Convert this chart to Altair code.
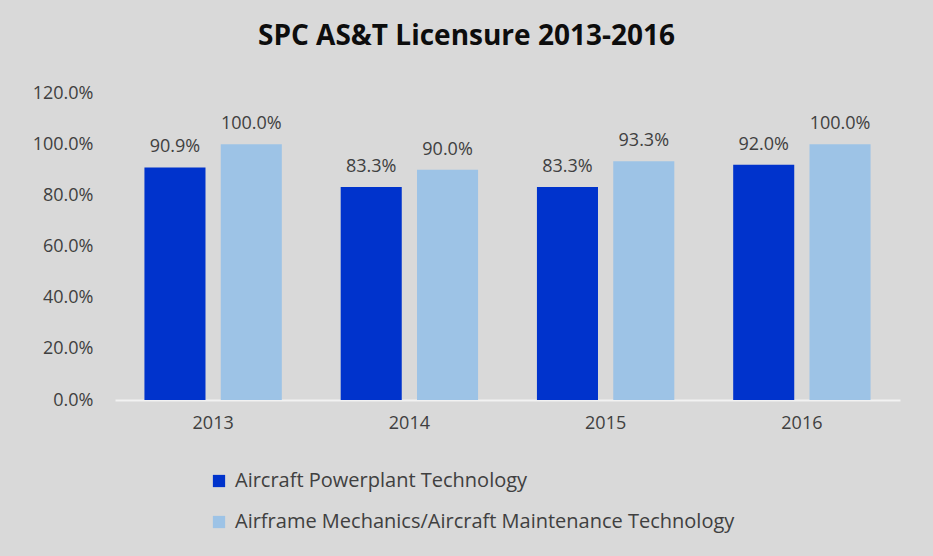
import altair as alt
import pandas as pd

years = ["2013", "2014", "2015", "2016"]
series = ["Aircraft Powerplant Technology",
          "Airframe Mechanics/Aircraft Maintenance Technology"]
powerplant = [0.909, 0.833, 0.833, 0.920]
airframe = [1.000, 0.900, 0.933, 1.000]
y_ticks = [0, 0.2, 0.4, 0.6, 0.8, 1.0, 1.2]

rows = []
for i, y in enumerate(years):
    rows.append({"year": y, "series": series[0], "value": powerplant[i], "order": 0})
    rows.append({"year": y, "series": series[1], "value": airframe[i], "order": 1})
df = pd.DataFrame(rows)

FONT = "Open Sans"
TXT = "#404040"

x = alt.X("year:N", sort=years, title=None,
          scale=alt.Scale(paddingInner=0.3, paddingOuter=0.15),
          axis=alt.Axis(labelAngle=0, ticks=False, domainColor="#f2f2f2", domainWidth=2,
                        labelFontSize=18, labelColor=TXT, labelFont=FONT, labelPadding=14))
xo = alt.XOffset("series:N", sort=series, scale=alt.Scale(paddingInner=0.2, paddingOuter=0))
y = alt.Y("value:Q", title=None,
          scale=alt.Scale(domain=[0, 1.2], nice=False),
          axis=alt.Axis(values=y_ticks, format=".1%", grid=False, domain=False, ticks=False,
                        labelFontSize=18, labelColor=TXT, labelFont=FONT, labelPadding=22))

bars = alt.Chart(df).mark_bar().encode(
    x=x, xOffset=xo, y=y,
    color=alt.Color("series:N", sort=series,
                    scale=alt.Scale(domain=series, range=["#0033cc", "#9dc3e6"]),
                    legend=alt.Legend(title=None, orient="none", legendX=94, legendY=378,
                                      direction="vertical", symbolType="square",
                                      symbolSize=150, symbolStrokeWidth=0,
                                      labelFontSize=20, labelColor=TXT, labelFont=FONT,
                                      labelLimit=700,
                                      rowPadding=21, padding=0, labelOffset=6)),
)

labels = alt.Chart(df).mark_text(baseline="bottom", dy=-11, fontSize=18, color=TXT, font=FONT).encode(
    x=alt.X("year:N", sort=years), xOffset=alt.XOffset("series:N", sort=series), y="value:Q",
    text=alt.Text("value:Q", format=".1%"),
)

chart = (bars + labels).properties(
    width=785, height=307,
    autosize=alt.AutoSizeParams(type="none"),
    padding={"left": 115, "top": 93, "right": 33, "bottom": 156},
    background="#d9d9d9",
    title=alt.TitleParams("SPC AS&T Licensure 2013-2016", font=FONT, fontSize=28,
                          fontWeight="bold", color="#0d0d0d", offset=33, dx=-41,
                          anchor="middle"),
).configure_view(stroke=None)

chart.save("out.html", embed_options={"renderer": "svg", "actions": False})
